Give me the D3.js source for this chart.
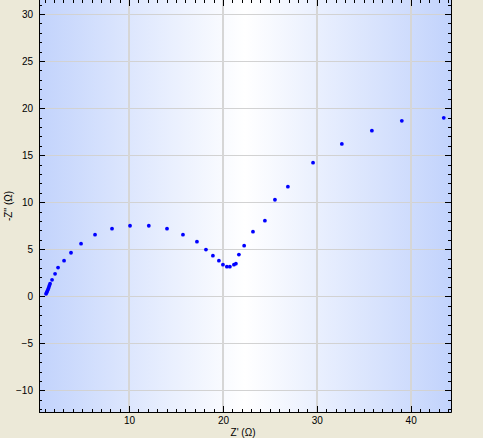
<!DOCTYPE html>
<html><head><meta charset="utf-8">
<script src="https://cdn.jsdelivr.net/npm/d3@7"></script>
<style>
html,body{margin:0;padding:0;background:#ECE9D8;overflow:hidden}
svg{display:block}
text{font-family:"Liberation Sans",Arial,sans-serif;font-size:10px;fill:#000}
</style></head>
<body>
<svg id="c" width="483" height="438"></svg>
<script>
// Data: Nyquist plot, Z' (real) vs -Z'' (imag), in ohms
const zReal = [1.15,1.22,1.28,1.36,1.43,1.50,1.58,1.79,2.11,2.43,3.07,3.81,4.88,6.37,8.18,10.1,12.1,14.04,15.74,17.23,18.19,18.93,19.57,20.0,20.42,20.74,21.17,21.38,21.7,22.26,23.2,24.47,25.54,26.92,29.6,32.67,35.87,39.06,43.53];
const zImag = [0.26,0.40,0.55,0.72,0.92,1.12,1.33,1.75,2.39,3.05,3.78,4.63,5.59,6.55,7.19,7.5,7.5,7.19,6.55,5.81,4.96,4.32,3.79,3.36,3.15,3.15,3.36,3.47,4.43,5.38,6.87,8.04,10.26,11.65,14.2,16.2,17.6,18.65,18.97];
const xTicks = [10,20,30,40];
const yTicks = [-10,-5,0,5,10,15,20,25,30];
const xTitle = "Z' (Ω)";
const yTitle = "-Z'' (Ω)";

const svg = d3.select("#c");
const L = 39, R = 451, T = -1, B = 412;
const x = d3.scaleLinear().domain([0.4, 44.3]).range([L, R]);
const y = d3.scaleLinear().domain([-12.3, 31.6]).range([B, T]);

// gradient background
const defs = svg.append("defs");
const g = defs.append("linearGradient").attr("id","bg").attr("x1","0").attr("x2","1").attr("y1","0").attr("y2","0");
g.append("stop").attr("offset","0%").attr("stop-color","#c2d3fc");
g.append("stop").attr("offset","50%").attr("stop-color","#ffffff");
g.append("stop").attr("offset","100%").attr("stop-color","#c2d3fc");
svg.append("rect").attr("x",L).attr("y",T).attr("width",R-L).attr("height",B-T).attr("fill","url(#bg)");

// grid
svg.append("g").selectAll("line").data(yTicks).join("line")
  .attr("x1",L).attr("x2",R).attr("y1",d=>Math.round(y(d))+0.5).attr("y2",d=>Math.round(y(d))+0.5)
  .attr("stroke","#d2d2d2").attr("stroke-width",1);
svg.append("g").selectAll("line").data(xTicks).join("line")
  .attr("y1",T).attr("y2",B).attr("x1",d=>Math.round(x(d))).attr("x2",d=>Math.round(x(d)))
  .attr("stroke","#d6d6d6").attr("stroke-width",2);

const xMinor = d3.range(1, 45).filter(v => v % 10 !== 0);
const yMinor = d3.range(-12, 32).filter(v => v % 5 !== 0);

const ax = svg.append("g");
// bottom labels
const xb = d3.axisBottom(x).tickValues(xTicks).tickSize(0).tickPadding(4).tickFormat(d3.format("d"));
const bottom = ax.append("g").attr("transform",`translate(0,${B})`).call(xb);
bottom.select(".domain").remove();
bottom.selectAll("text").attr("dy","0.71em").attr("y",5);

function ticks(vals, len, side) {
  const gg = ax.append("g").attr("stroke","#000").attr("stroke-width",1);
  vals.forEach(v => {
    if (side === "bottom") { const px = Math.round(x(v))+0.5; gg.append("line").attr("x1",px).attr("x2",px).attr("y1",B).attr("y2",B-len); }
    if (side === "top") { const px = Math.round(x(v))+0.5; gg.append("line").attr("x1",px).attr("x2",px).attr("y1",0).attr("y2",len); }
    if (side === "left") { const py = Math.round(y(v))+0.5; gg.append("line").attr("x1",L).attr("x2",L+len).attr("y1",py).attr("y2",py); }
    if (side === "right") { const py = Math.round(y(v))+0.5; gg.append("line").attr("x1",R).attr("x2",R-len).attr("y1",py).attr("y2",py); }
  });
}
ticks(xTicks, 6, "bottom"); ticks(xMinor, 3, "bottom");
ticks(xTicks, 6, "top"); ticks(xMinor, 3, "top");
ticks(yTicks, 6, "left"); ticks(yMinor, 3, "left");
ticks(yTicks, 6, "right"); ticks(yMinor, 3, "right");

// frame lines
ax.append("line").attr("x1",L).attr("x2",R+0.5).attr("y1",B+0.5).attr("y2",B+0.5).attr("stroke","#000");
ax.append("line").attr("x1",L+0.5).attr("x2",L+0.5).attr("y1",T).attr("y2",B+0.5).attr("stroke","#000");
ax.append("line").attr("x1",R+0.5).attr("x2",R+0.5).attr("y1",T).attr("y2",B+0.5).attr("stroke","#000");

// left axis labels
const yl = d3.axisLeft(y).tickValues(yTicks).tickSize(0).tickPadding(6).tickFormat(d3.format("d"));
const left = ax.append("g").attr("transform",`translate(${L},0)`).call(yl);
left.select(".domain").remove();

svg.selectAll(".tick text").style("font-family","'Liberation Sans',Arial,sans-serif").style("font-size","10px").attr("fill","#000");

// titles
svg.append("text").attr("x",(L+R)/2 - 2).attr("y",436).attr("text-anchor","middle").text(xTitle);
svg.append("text").attr("transform",`translate(12,${(0+B)/2}) rotate(-90)`).attr("text-anchor","middle").text(yTitle);

// points
svg.append("g").selectAll("circle").data(zReal.map((v,i)=>[v,zImag[i]])).join("circle")
  .attr("cx",d=>x(d[0])).attr("cy",d=>y(d[1])).attr("r",1.9).attr("fill","#0000ff");
</script>
</body></html>
